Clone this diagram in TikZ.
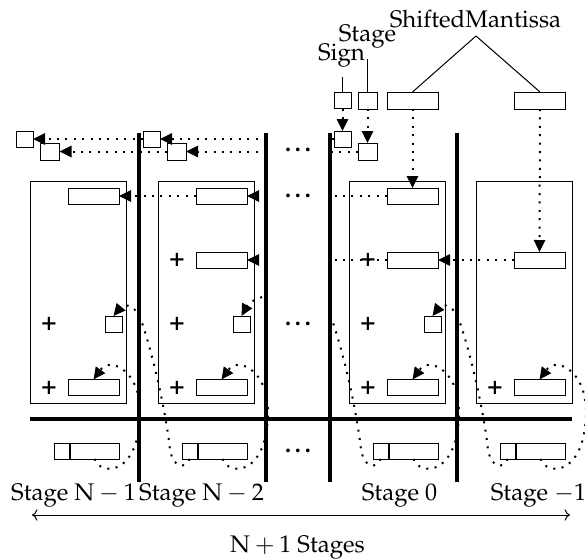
\documentclass[tikz,border=0pt]{standalone}
\usepackage[T1]{fontenc}
\usepackage{mathpazo}
\usetikzlibrary{arrows.meta}
\begin{document}
\begin{tikzpicture}[x=0.5pt,y=-0.5pt,
  font=\fontsize{12}{14}\selectfont,
  boxbase/.style={draw,line width=0.5pt,inner sep=0pt,outer sep=0pt,fill=white},
  reg/.style={boxbase,minimum width=25.5pt,minimum height=8pt},
  treg/.style={boxbase,minimum width=25.5pt,minimum height=8.5pt},
  sqa/.style={boxbase,minimum width=8.5pt,minimum height=8pt},
  sqb/.style={boxbase,minimum width=9.5pt,minimum height=8.5pt},
  sgn/.style={boxbase,minimum width=7.75pt,minimum height=8pt},
  man/.style={boxbase,minimum width=24.5pt,minimum height=8pt},
  sepline/.style={line width=1.6pt},
  stagebox/.style={line width=0.5pt},
  dotline/.style={line width=1pt,dash pattern=on 1pt off 3.2pt},
  arr/.style={-{Triangle[length=6pt,width=5.6pt]}},
  plus/.style={inner sep=0pt,font=\fontsize{13}{14}\selectfont\bfseries},
  ell/.style={anchor=base,inner sep=0pt,font=\fontsize{12}{14}\selectfont\bfseries},
  lab/.style={anchor=base,inner sep=0pt}
]
\clip (0,0) rectangle (585,559);

% stage boxes
\draw[stagebox] (30,181) rectangle (126,403);
\draw[stagebox] (158,181) rectangle (254,403);
\draw[stagebox] (349,181) rectangle (445,403);
\draw[stagebox] (476,181) rectangle (572,403);

% separators
\draw[sepline] (139,133) -- (139,482);
\draw[sepline] (266,133) -- (266,482);
\draw[sepline] (330,133) -- (330,482);
\draw[sepline] (457,133) -- (457,482);
\draw[sepline] (30,419) -- (572,419);

% top inputs
\node[sqa] (t1) at (342.5,100.5) {};
\node[sqb] (t2) at (367.5,100.5) {};
\node[treg] (t3) at (412.5,100.5) {};
\node[treg] (t4) at (540,100.5) {};
\node[lab] (signlab) at (341.5,60) {Sign};
\node[lab] (stagelab) at (367.5,41) {Stage};
\node[lab] (smlab) at (475.5,27) {ShiftedMantissa};
\coordinate (signend) at (342.5,77);
\coordinate (stageend) at (367.5,59);
\coordinate (smapex) at (476,36);
\draw[line width=0.5pt] (t1.north) -- (signend);
\draw[line width=0.5pt] (t2.north) -- (stageend);
\draw[line width=0.5pt] (t3.north) -- (smapex) -- (t4.north);

% Stage N-1 (L=11)
\node[sqa] (s1A) at (24.5,139) {};
\node[sqb] (s2A) at (50,151.5) {};
\node[reg] (r1A) at (93.5,196) {};
\node[sqa] (sqA) at (113.5,324) {};
\node[reg] (r4A) at (93.5,387.5) {};
\node[plus] (pA3) at (49,324) {+};
\node[plus] (pA4) at (49,387.5) {+};
\node[sgn] (sgnA) at (61.75,451) {};
\node[man] (manA) at (94.5,451) {};

% Stage N-2 (L=139)
\node[sqa] (s1B) at (151.5,139) {};
\node[sqb] (s2B) at (176.5,151.5) {};
\node[reg] (r1B) at (221.5,196) {};
\node[reg] (r2B) at (221.5,260) {};
\node[sqa] (sqB) at (241.5,324) {};
\node[reg] (r4B) at (221.5,387.5) {};
\node[plus] (pB2) at (177,260) {+};
\node[plus] (pB3) at (177,324) {+};
\node[plus] (pB4) at (177,387.5) {+};
\node[sgn] (sgnB) at (189.75,451) {};
\node[man] (manB) at (222.5,451) {};

% Stage 0 (L=330)
\node[sqa] (s1C) at (342.5,139) {};
\node[sqb] (s2C) at (367.5,151.5) {};
\node[reg] (r1C) at (412.5,196) {};
\node[reg] (r2C) at (412.5,260) {};
\node[sqa] (sqC) at (432.5,324) {};
\node[reg] (r4C) at (412.5,387.5) {};
\node[plus] (pC2) at (368,260) {+};
\node[plus] (pC3) at (368,324) {+};
\node[plus] (pC4) at (368,387.5) {+};
\node[sgn] (sgnC) at (380.75,451) {};
\node[man] (manC) at (413.5,451) {};

% Stage -1 (L=457)
\node[reg] (r2D) at (539.5,260) {};
\node[reg] (r4D) at (539.5,387.5) {};
\node[plus] (pD4) at (495,387.5) {+};
\node[sgn] (sgnD) at (507.75,451) {};
\node[man] (manD) at (540.5,451) {};

% ellipses
\node[ell] (e1) at (298,151.5) {.\,.\,.};
\node[ell] (e2) at (298,197.5) {.\,.\,.};
\node[ell] (e3) at (298,325.5) {.\,.\,.};
\node[ell] (e4) at (298,452.5) {.\,.\,.};

% line end coordinates
\coordinate (c0a) at (330,139);
\coordinate (c0b) at (330,151.5);
\coordinate (c0c) at (330,196);
\coordinate (c0d) at (330,260);
\coordinate (c1a) at (266,139);
\coordinate (c1b) at (266,151.5);
\coordinate (c1c) at (266,196);
\coordinate (c1d) at (266,260);

% straight dotted connectors
\draw[dotline,arr] (t1.south) -- (s1C.north);
\draw[dotline,arr] (t2.south) -- (s2C.north);
\draw[dotline,arr] (t3.south) -- (r1C.north);
\draw[dotline,arr] (t4.south) -- (r2D.north);
\draw[dotline] (s1C.west) -- (c0a);
\draw[dotline] (s2C.west) -- (c0b);
\draw[dotline] (r1C.west) -- (c0c);
\draw[dotline,arr] (r2D.west) -- (r2C.east);
\draw[dotline] (r2C.west) -- (c0d);
\draw[dotline,arr] (c1a) -- (s1B.east);
\draw[dotline,arr] (c1b) -- (s2B.east);
\draw[dotline,arr] (c1c) -- (r1B.east);
\draw[dotline,arr] (c1d) -- (r2B.east);
\draw[dotline,arr] (s1B.west) -- (s1A.east);
\draw[dotline,arr] (s2B.west) -- (s2A.east);
\draw[dotline,arr] (r1B.west) -- (r1A.east);

% mantissa loops
\draw[dotline,arr] (manA.south) .. controls (99,472) and (121,474) .. (132,452)
  .. controls (140,438) and (143,405) .. (136,388)
  .. controls (129,368) and (109,358) .. (r4A.north);
\draw[dotline,arr] (manB.south) .. controls (227,472) and (249,474) .. (260,452)
  .. controls (268,438) and (271,405) .. (264,388)
  .. controls (257,368) and (237,358) .. (r4B.north);
\draw[dotline,arr] (manC.south) .. controls (418,472) and (440,474) .. (451,452)
  .. controls (459,438) and (462,405) .. (455,388)
  .. controls (448,368) and (428,358) .. (r4C.north);
\draw[dotline,arr] (manD.south) .. controls (545,472) and (567,474) .. (578,452)
  .. controls (586,438) and (589,405) .. (582,388)
  .. controls (575,368) and (555,358) .. (r4D.north);

% sign curves
\draw[dotline,arr] (sgnB.south) .. controls (186,468) and (174,470) .. (170,450)
  .. controls (167,420) and (155,360) .. (141,320)
  .. controls (138,308) and (125,302) .. (sqA.north);
\draw[dotline,arr] (sgnD.south) .. controls (504,468) and (492,470) .. (488,450)
  .. controls (485,420) and (473,360) .. (459,320)
  .. controls (456,308) and (443,302) .. (sqC.north);
\coordinate (sgCend) at (332,320);
\draw[dotline] (sgnC.south) .. controls (377,468) and (365,470) .. (361,450)
  .. controls (358,420) and (346,360) .. (sgCend);
\coordinate (sgBstart) at (262,297);
\draw[dotline,arr] (sgBstart) .. controls (255,299) and (248,304) .. (sqB.north);

% stage labels
\node[lab] (l1) at (73.5,500.5) {Stage $\mathrm{N}-1$};
\node[lab] (l2) at (201.5,500.5) {Stage $\mathrm{N}-2$};
\node[lab] (l3) at (399.5,500.5) {Stage 0};
\node[lab] (l4) at (538.5,500.5) {Stage $-1$};
\coordinate (al) at (32,515);
\coordinate (ar) at (570,515);
\draw[line width=0.5pt,{To}-{To}] (al) -- (ar);
\node[lab] (nst) at (297.5,552) {$\mathrm{N}+1$ Stages};
\end{tikzpicture}
\end{document}
